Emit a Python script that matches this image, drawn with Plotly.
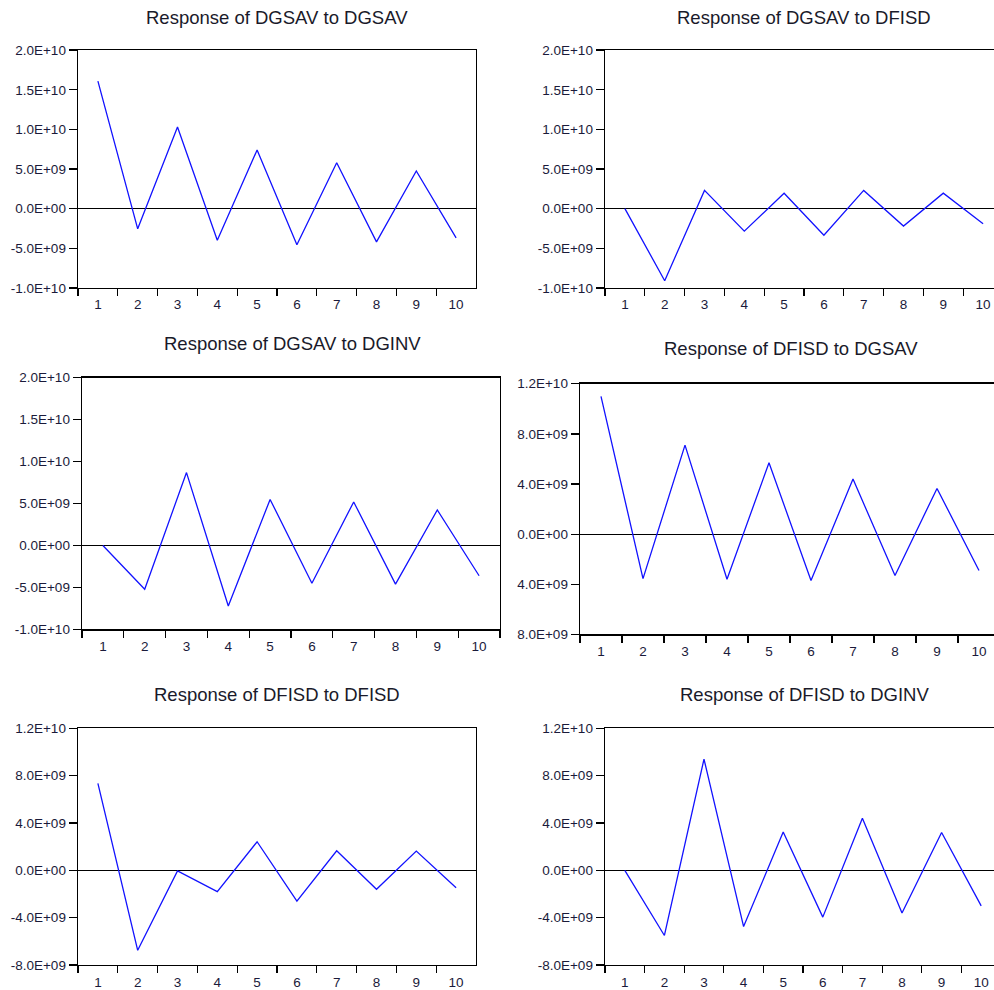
import plotly.graph_objects as go

periods = ["1", "2", "3", "4", "5", "6", "7", "8", "9", "10"]

titles = [
    "Response of DGSAV to DGSAV",
    "Response of DGSAV to DFISD",
    "Response of DGSAV to DGINV",
    "Response of DFISD to DGSAV",
    "Response of DFISD to DFISD",
    "Response of DFISD to DGINV",
]

dgsav_dgsav = [16.1e9, -2.55e9, 10.3e9, -4.0e9, 7.4e9, -4.55e9, 5.8e9, -4.2e9, 4.75e9, -3.7e9]
dgsav_dfisd = [0.0, -9.1e9, 2.3e9, -2.85e9, 1.95e9, -3.35e9, 2.3e9, -2.2e9, 1.95e9, -1.9e9]
dgsav_dginv = [0.0, -5.2e9, 8.7e9, -7.2e9, 5.5e9, -4.5e9, 5.2e9, -4.6e9, 4.25e9, -3.6e9]
dfisd_dgsav = [11.0e9, -3.55e9, 7.1e9, -3.6e9, 5.7e9, -3.7e9, 4.4e9, -3.3e9, 3.65e9, -2.9e9]
dfisd_dfisd = [7.35e9, -6.75e9, -0.05e9, -1.8e9, 2.42e9, -2.6e9, 1.66e9, -1.6e9, 1.63e9, -1.46e9]
dfisd_dginv = [0.0, -5.5e9, 9.4e9, -4.75e9, 3.25e9, -3.95e9, 4.4e9, -3.6e9, 3.2e9, -3.0e9]

series = [dgsav_dgsav, dgsav_dfisd, dgsav_dginv, dfisd_dgsav, dfisd_dfisd, dfisd_dginv]

ticks_a_vals = [-1e10, -5e9, 0, 5e9, 1e10, 1.5e10, 2e10]
ticks_a_text = ["-1.0E+10", "-5.0E+09", "0.0E+00", "5.0E+09", "1.0E+10", "1.5E+10", "2.0E+10"]
ticks_b_vals = [-8e9, -4e9, 0, 4e9, 8e9, 1.2e10]
ticks_b_text = ["-8.0E+09", "-4.0E+09", "0.0E+00", "4.0E+09", "8.0E+09", "1.2E+10"]
ticks_c_text = ["8.0E+09", "4.0E+09", "0.0E+00", "4.0E+09", "8.0E+09", "1.2E+10"]

W, H = 994, 990
# screen photo maps page y -> 6.8 + 0.985 * y ; compensate
def py(y_ref):
    return (y_ref - 6.8) / 0.985

# reference pixel boxes: left, right, top, bottom
boxes = [
    (78, 476, 50, 288),
    (605, 994, 50, 288),
    (82, 500, 378, 630),
    (580, 994, 384, 635),
    (78, 476, 729, 966),
    (605, 994, 729, 966),
]
band = [39.8, 39.8, 41.8, 42.0, 39.8, 39.6]
title_pos = [(277, 17), (804, 17), (292, 344), (791, 349), (277, 695), (804, 695)]
yticks = [
    (ticks_a_vals, ticks_a_text, [-1e10, 2e10]),
    (ticks_a_vals, ticks_a_text, [-1e10, 2e10]),
    (ticks_a_vals, ticks_a_text, [-1e10, 2e10]),
    (ticks_b_vals, ticks_c_text, [-8e9, 1.2e10]),
    (ticks_b_vals, ticks_b_text, [-8e9, 1.2e10]),
    (ticks_b_vals, ticks_b_text, [-8e9, 1.2e10]),
]

font_fam = "Liberation Sans, Arial, sans-serif"
fig = go.Figure()
layout = {}
annotations = []
for i, (vals, box) in enumerate(zip(series, boxes)):
    n = "" if i == 0 else str(i + 1)
    l, r, t, b = box
    right_side = r >= W
    r = min(r, W)
    t, b = py(t), py(b)
    fig.add_trace(go.Scatter(
        x=periods, y=vals, mode="lines",
        line=dict(color="#1212ff", width=1.3),
        xaxis="x" + n, yaxis="y" + n, showlegend=False, hoverinfo="skip",
    ))
    xmax = (r - l) / band[i] - 0.5
    layout["xaxis" + n] = dict(
        domain=[l / W, r / W], anchor="y" + n, type="category",
        range=[-0.5, xmax], tickson="boundaries", ticks="outside", ticklen=7,
        tickcolor="black", tickwidth=1.3, showline=True, linecolor="black",
        linewidth=1.4, mirror=True, showgrid=False, zeroline=False,
        ticklabelstandoff=4,
        tickfont=dict(family=font_fam, size=13.5, color="#1a1a3a"),
        fixedrange=True,
    )
    tv, tt, rng = yticks[i]
    layout["yaxis" + n] = dict(
        domain=[1 - b / H, 1 - t / H], anchor="x" + n, range=rng,
        tickmode="array", tickvals=tv, ticktext=tt, ticks="outside",
        ticklen=8, tickcolor="black", tickwidth=1.3, showline=True,
        linecolor="black", linewidth=1.4, mirror=(not right_side),
        showgrid=False, zeroline=True, zerolinecolor="black",
        zerolinewidth=1.0, tickfont=dict(family=font_fam, size=13.5, color="#1a1a3a"),
        fixedrange=True,
    )
    tx, ty = title_pos[i]
    annotations.append(dict(
        text=titles[i], x=tx / W, y=1 - py(ty) / H,
        xref="paper", yref="paper",
        xanchor="center", yanchor="middle", showarrow=False,
        font=dict(family=font_fam, size=18.5, color="#1a1a2a"),
    ))

fig.update_layout(
    width=W, height=H, margin=dict(l=0, r=0, t=0, b=0),
    paper_bgcolor="white", plot_bgcolor="white",
    annotations=annotations, **layout,
)
fig.write_html(
    "out.html",
    config={"displayModeBar": False, "staticPlot": True},
    post_script="document.body.style.margin='0';document.body.style.overflow='hidden';",
)
